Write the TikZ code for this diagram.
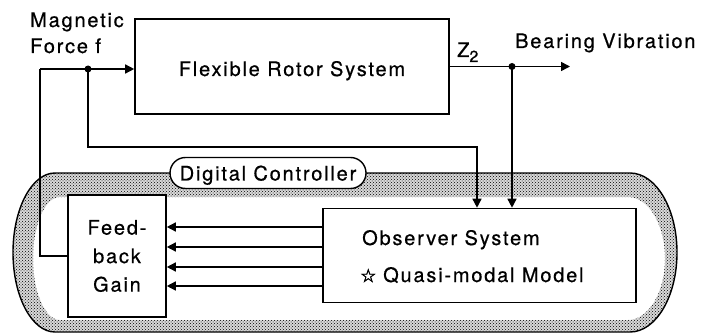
\documentclass[tikz,border=0pt]{standalone}
\usepackage{fontspec}
\setmainfont{TeX Gyre Heros}[LetterSpace=9, FakeBold=0.6]
\newfontfamily\symfont{DejaVu Sans}[FakeBold=2.5]
\usetikzlibrary{arrows.meta,patterns}
\tikzset{
  every node/.style={font=\fontsize{20pt}{26pt}\selectfont},
  box/.style={draw, line width=1.6pt, fill=white, inner sep=0pt},
  conn/.style={line width=1.5pt},
  arr/.style={conn, -{Triangle[length=9pt,width=9pt]}},
  lbl/.style={inner sep=0pt, anchor=base west},
  jdot/.style={circle, fill=black, inner sep=0pt, minimum size=7pt},
  bandbg/.style={fill=black!15, even odd rule},
  band/.style={pattern=crosshatch dots, pattern color=black, even odd rule},
}
\begin{document}
\begin{tikzpicture}[x=1pt,y=-1pt]
\useasboundingbox (0,0) rectangle (708,334);
% Digital controller region (shaded band)
\def\bandpath{
  (55,173) -- (630,173) arc[start angle=90,end angle=-90,x radius=47pt,y radius=79.5pt]
  -- (55,332) arc[start angle=270,end angle=90,x radius=42pt,y radius=79.5pt] -- cycle
  (60,197) -- (628,197) arc[start angle=90,end angle=-90,x radius=37pt,y radius=61.5pt]
  -- (60,320) arc[start angle=270,end angle=90,x radius=27pt,y radius=61.5pt] -- cycle}
\fill[bandbg] \bandpath;
\fill[band] \bandpath;
\draw[line width=1.4pt]
  (55,173) -- (630,173) arc[start angle=90,end angle=-90,x radius=47pt,y radius=79.5pt]
  -- (55,332) arc[start angle=270,end angle=90,x radius=42pt,y radius=79.5pt] -- cycle;
\node[draw, line width=1.4pt, fill=white, rounded corners=15.5pt, minimum width=196pt,
      minimum height=31pt, inner sep=0pt, text depth=0pt] (dc) at (268,173) {Digital Controller};

% Boxes
\node[box, minimum width=314pt, minimum height=95pt] (frs) at (292,66.5) {};
\node[anchor=base, inner sep=0pt] (frst) at (292,76) {Flexible Rotor System};
\node[box, minimum width=98pt, minimum height=122pt, align=center,
      font=\fontsize{20pt}{28.5pt}\selectfont] (fb) at (117,256) {Feed-\\back\\Gain};
\node[box, minimum width=313pt, minimum height=94pt] (obs) at (479.5,255.5) {};
\node[lbl] (obs1) at (362,245) {Observer System};
\node[lbl] (star) at (360,282) {\symfont\fontsize{18pt}{18pt}\selectfont ☆};
\node[lbl] (obs2) at (383,282) {Quasi-modal Model};

% Labels
\node[lbl] (mag1) at (30,27) {Magnetic};
\node[lbl] (mag2) at (30,53) {Force f};
\node[lbl] (z2) at (457,57) {Z\raisebox{-5pt}{\fontsize{16pt}{16pt}\selectfont 2}};
\node[lbl] (bv) at (515,48) {Bearing Vibration};

% Connectors
\coordinate (fin) at (40,69);
\node[jdot] (fdot) at (88,69) {};
\coordinate (turn) at (477,147);
\node[jdot] (zdot) at (512,66.5) {};
\coordinate (bvend) at (570,66.5);

\draw[arr] (fin) -- (fin -| frs.west);
\draw[conn] (fin) |- (fb.west);
\draw[arr] (fdot.center) |- (turn) -- (turn |- obs.north);
\draw[arr] (frs.east) -- (bvend);
\draw[arr] (zdot.center) -- (zdot |- obs.north);
\foreach \yy in {227,247,267,286}
  \draw[arr] (obs.west |- 0,\yy) -- (fb.east |- 0,\yy);
\end{tikzpicture}
\end{document}
